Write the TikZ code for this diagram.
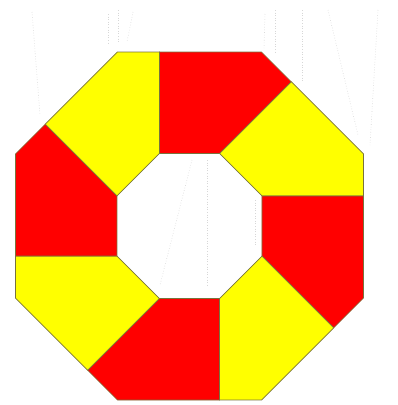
\documentclass[tikz,border=0pt]{standalone}
\definecolor{pred}{RGB}{255,0,0}
\definecolor{pyel}{RGB}{255,255,0}
\definecolor{edgec}{RGB}{120,115,60}
\definecolor{ghost}{RGB}{215,215,215}
\tikzset{
  piece/.style={draw=edgec, line width=0.7pt, line join=miter},
  ghostline/.style={draw=ghost, line width=0.6pt, dotted}
}
\begin{document}
\begin{tikzpicture}[x=1pt,y=1pt]
  % pixel frame: x in [0,398], y in [0,405] with y downward; centre at (189.5,226)
  \useasboundingbox (-189.5,-179) rectangle (208.5,226);
  \fill[white] (-189.5,-179) rectangle (208.5,226);
  % faint ghost lines
  \begin{scope}[shift={(-189.5,226)}, yscale=-1]
    \draw[ghostline] (32,12) -- (40,115);
    \draw[ghostline] (108,14) -- (108,45);
    \draw[ghostline] (118,10) -- (118,42);
    \draw[ghostline] (133,12) -- (127,42);
    \draw[ghostline] (265,14) -- (264,48);
    \draw[ghostline] (275,10) -- (275,52);
    \draw[ghostline] (302,10) -- (302,82);
    \draw[ghostline] (328,10) -- (358,135);
    \draw[ghostline] (378,10) -- (370,145);
    \draw[ghostline] (192,160) -- (160,285);
    \draw[ghostline] (207,160) -- (207,285);
    \draw[ghostline] (255,200) -- (255,245);
  \end{scope}
  \foreach \k in {0,...,7}{
    \pgfmathsetmacro{\ang}{-45*\k}
    \ifodd\k
      \def\pc{pyel}
    \else
      \def\pc{pred}
    \fi
    \filldraw[piece, fill=\pc, rotate=\ang]
      (-30,72.5) -- (-30,174) -- (72,174) -- (101.75,144.25) -- (30,72.5) -- cycle;
  }
\end{tikzpicture}
\end{document}
